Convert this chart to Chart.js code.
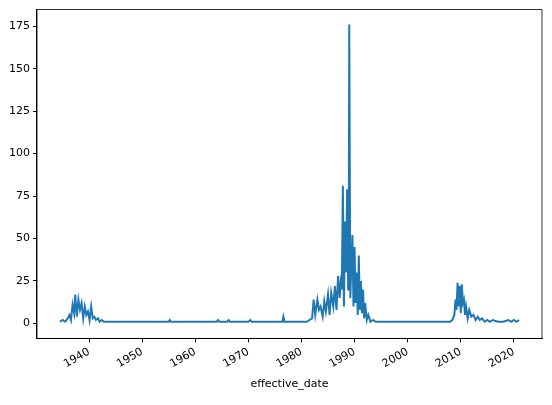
<!DOCTYPE html>
<html><head><meta charset="utf-8">
<script src="https://cdn.jsdelivr.net/npm/chart.js@4"></script>
<style>body{margin:0;background:#fff}#w{width:552px;height:405px}</style>
</head><body><div id="w"><canvas id="c"></canvas></div>
<script>
// effective_date (decimal years) and values
const years = [1934.5,1935.0,1935.5,1936.0,1936.3,1936.6,1936.9,1937.2,1937.4,1937.7,1938.0,1938.3,1938.6,1938.9,1939.2,1939.5,1939.8,1940.1,1940.4,1940.7,1941.0,1941.3,1941.7,1942.0,1942.4,1942.8,1943.3,1944.0,1945.0,1946.0,1947.0,1948.0,1949.0,1955.0,1955.2,1955.4,1960.0,1962.0,1964.0,1964.3,1964.5,1965.0,1966.0,1966.3,1966.5,1967.0,1970.0,1970.4,1970.6,1971.0,1975.0,1976.4,1976.6,1976.8,1978.0,1980.0,1981.0,1981.5,1982.0,1982.3,1982.6,1983.0,1983.3,1983.6,1984.0,1984.3,1984.6,1985.0,1985.3,1985.6,1986.0,1986.3,1986.6,1986.9,1987.2,1987.4,1987.6,1987.8,1988.0,1988.2,1988.4,1988.6,1988.8,1988.9,1989.0,1989.2,1989.4,1989.6,1989.8,1990.0,1990.2,1990.4,1990.6,1990.8,1991.0,1991.2,1991.4,1991.6,1991.8,1992.0,1992.3,1992.6,1993.0,1993.5,1994.0,1995.0,1996.0,1997.0,1998.0,2000.0,2003.0,2005.0,2008.0,2008.4,2008.8,2009.0,2009.2,2009.4,2009.6,2009.8,2010.0,2010.2,2010.4,2010.6,2010.8,2011.0,2011.3,2011.6,2012.0,2012.4,2012.8,2013.2,2013.6,2014.0,2014.5,2015.0,2015.5,2016.0,2017.0,2018.0,2019.0,2019.5,2020.0,2020.5,2021.0];
const values = [1,2,1,3,5,2,11,6,17,4,14,8,12,3,10,5,7,2,10,3,4,2,3,1,2,1,1,1,1,1,1,1,1,1,2,1,1,1,1,2,1,1,1,2,1,1,1,2,1,1,1,1,4,1,1,1,1,2,3,14,5,14,8,10,4,13,7,17,5,18,10,22,8,28,15,24,20,81,10,60,30,79,20,40,176,15,35,52,10,45,12,30,5,40,8,25,6,20,3,12,2,5,1,2,1,1,1,1,1,1,1,1,1,2,5,14,8,24,10,22,6,23,12,14,5,10,3,8,4,5,2,4,2,3,1,2,1,2,1,1,2,1,2,1,2];

const font = { family: 'DejaVu Sans', size: 11 };

new Chart(document.getElementById('c'), {
    type: 'line',
    data: {
        datasets: [{
            data: years.map((y, i) => ({ x: y, y: values[i] })),
            borderColor: '#1f77b4',
            borderWidth: 2,
            pointRadius: 0,
            tension: 0
        }]
    },
    options: {
        responsive: true, maintainAspectRatio: false, animation: false,
        layout: { padding: { left: 6, right: 10, top: 8, bottom: 10 } },
        plugins: { legend: { display: false }, tooltip: { enabled: false } },
        scales: {
            x: {
                type: 'linear', min: 1930.2, max: 2025.3,
                afterBuildTicks: a => { a.ticks = [1940,1950,1960,1970,1980,1990,2000,2010,2020].map(v => ({ value: v })); },
                grid: { drawOnChartArea: false, tickLength: 4, color: '#000' },
                border: { color: '#000' },
                ticks: { color: '#000', font, maxRotation: 30, minRotation: 30, callback: v => String(v) },
                title: { display: true, text: 'effective_date', color: '#000', font }
            },
            y: {
                min: -8.8, max: 184.8,
                afterBuildTicks: a => { a.ticks = [0,25,50,75,100,125,150,175].map(v => ({ value: v })); },
                grid: { drawOnChartArea: false, tickLength: 4, color: '#000' },
                border: { color: '#000' },
                ticks: { color: '#000', font }
            }
        }
    },
    plugins: [{
        id: 'frame',
        afterDraw(ch) {
            const { ctx, chartArea: a } = ch;
            ctx.save(); ctx.strokeStyle = '#000'; ctx.lineWidth = 0.8;
            ctx.strokeRect(a.left, a.top, a.right - a.left, a.bottom - a.top);
            ctx.restore();
        }
    }]
});
</script></body></html>
